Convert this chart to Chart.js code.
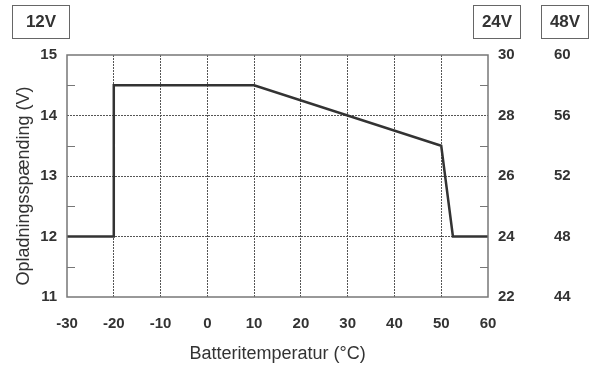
<!DOCTYPE html>
<html>
<head>
<meta charset="utf-8">
<script src="https://cdn.jsdelivr.net/npm/chart.js@4.4.1/dist/chart.umd.min.js"></script>
<style>
  html, body { margin: 0; padding: 0; background: #fff; }
  #wrap { position: relative; width: 601px; height: 365px; }
  canvas { position: absolute; left: 0; top: 0; }
  .vbox {
    position: absolute; top: 5px; height: 34px;
    border: 1px solid #666; box-sizing: border-box;
    font: bold 17px "Liberation Sans", Arial, sans-serif; color: #333;
    display: flex; align-items: center; justify-content: center;
  }
</style>
</head>
<body>
<div id="wrap">
  <canvas id="chart" width="601" height="365"></canvas>
  <div class="vbox" style="left:12px;width:58px;">12V</div>
  <div class="vbox" style="left:473px;width:48px;">24V</div>
  <div class="vbox" style="left:541px;width:48px;">48V</div>
</div>
<script>
// charge voltage vs battery temperature (12V system)
const temps = [-30, -20, -20, 10, 50, 52.5, 60];
const volts = [12, 12, 14.5, 14.5, 13.5, 12, 12];

const xTicks = [-30, -20, -10, 0, 10, 20, 30, 40, 50, 60];
const yTicks12 = [11, 12, 13, 14, 15];
const yTicks24 = [22, 24, 26, 28, 30];
const yTicks48 = [44, 48, 52, 56, 60];
const minorTicks = [11.5, 12.5, 13.5, 14.5];

const textColor = '#333';
const tickFont = { family: 'Liberation Sans', size: 15, weight: 'bold' };
const titleFont = { family: 'Liberation Sans', size: 18 };
const gridColor = '#555';

// draws the frame and the short inside ticks at the half volt marks
const framePlugin = {
  id: 'frame',
  afterDatasetsDraw(chart) {
    const { ctx, chartArea: a, scales } = chart;
    ctx.save();
    ctx.strokeStyle = '#777';
    ctx.lineWidth = 1.5;
    ctx.strokeRect(a.left, a.top, a.right - a.left, a.bottom - a.top);
    ctx.lineWidth = 1;
    ctx.beginPath();
    minorTicks.forEach(v => {
      const y = Math.round(scales.y.getPixelForValue(v)) + 0.5;
      ctx.moveTo(a.left, y);
      ctx.lineTo(a.left + 8, y);
      ctx.moveTo(a.right - 8, y);
      ctx.lineTo(a.right, y);
    });
    ctx.stroke();
    ctx.restore();
  }
};

const edgeTransparent = (ctx, lo, hi) =>
  (ctx.tick && (ctx.tick.value === lo || ctx.tick.value === hi)) ? 'rgba(0,0,0,0)' : gridColor;

new Chart(document.getElementById('chart'), {
  type: 'line',
  data: {
    datasets: [{
      data: temps.map((t, i) => ({ x: t, y: volts[i] })),
      borderColor: '#333',
      borderWidth: 2.5,
      pointRadius: 0,
      tension: 0,
      fill: false
    }]
  },
  options: {
    responsive: false,
    animation: false,
    layout: { padding: { top: 55, left: 0, right: 0, bottom: 0 } },
    plugins: { legend: { display: false }, tooltip: { enabled: false } },
    scales: {
      x: {
        type: 'linear',
        min: -30, max: 60,
        afterBuildTicks: s => { s.ticks = xTicks.map(v => ({ value: v })); },
        afterFit: s => { s.height = 68; },
        border: { display: false, dash: [2, 1] },
        grid: {
          color: c => edgeTransparent(c, -30, 60),
          lineWidth: 1,
          tickLength: 0,
          drawTicks: false
        },
        ticks: { color: textColor, font: tickFont, padding: 18, maxRotation: 0 },
        title: {
          display: true, text: 'Batteritemperatur (°C)',
          color: textColor, font: titleFont, padding: { top: 0, bottom: 0 }
        }
      },
      y: {
        position: 'left',
        min: 11, max: 15,
        afterBuildTicks: s => { s.ticks = yTicks12.map(v => ({ value: v })); },
        afterFit: s => { s.width = 67; },
        border: { display: false, dash: [2, 1] },
        grid: {
          color: c => edgeTransparent(c, 11, 15),
          lineWidth: 1,
          tickLength: 0,
          drawTicks: false
        },
        ticks: { color: textColor, font: tickFont, padding: 10 },
        title: {
          display: true, text: 'Opladningsspænding (V)    ',
          color: textColor, font: titleFont, padding: { top: 13, bottom: 0 }
        }
      },
      y24: {
        position: 'right',
        min: 22, max: 30,
        afterBuildTicks: s => { s.ticks = yTicks24.map(v => ({ value: v })); },
        afterFit: s => { s.width = 56; },
        border: { display: false },
        grid: { display: false, drawTicks: false, tickLength: 0 },
        ticks: { color: textColor, font: tickFont, padding: 10 }
      },
      y48: {
        position: 'right',
        min: 44, max: 60,
        afterBuildTicks: s => { s.ticks = yTicks48.map(v => ({ value: v })); },
        afterFit: s => { s.width = 57; },
        border: { display: false },
        grid: { display: false, drawTicks: false, tickLength: 0 },
        ticks: { color: textColor, font: tickFont, padding: 10 }
      }
    }
  },
  plugins: [framePlugin]
});
</script>
</body>
</html>
